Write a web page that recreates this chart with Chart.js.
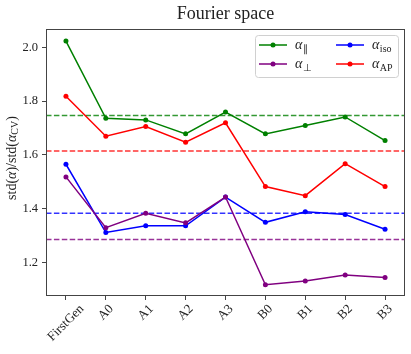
<!DOCTYPE html>
<html>
<head>
<meta charset="utf-8">
<script src="https://cdn.jsdelivr.net/npm/chart.js@4.4.1/dist/chart.umd.min.js"></script>
<style>
    html, body { margin: 0; padding: 0; background: #fff; }
    #wrap { width: 411px; height: 354px; }
</style>
</head>
<body>
<div id="wrap"><canvas id="fourierChart" width="411" height="354"></canvas></div>
<script>
// Data
const categories = ['FirstGen', 'A0', 'A1', 'A2', 'A3', 'B0', 'B1', 'B2', 'B3'];
const alphaPar  = [2.023, 1.736, 1.730, 1.678, 1.759, 1.678, 1.709, 1.741, 1.653];
const alphaPerp = [1.518, 1.329, 1.383, 1.347, 1.443, 1.117, 1.131, 1.153, 1.144];
const alphaIso  = [1.565, 1.311, 1.336, 1.336, 1.443, 1.349, 1.388, 1.378, 1.323];
const alphaAP   = [1.818, 1.669, 1.705, 1.647, 1.719, 1.482, 1.448, 1.567, 1.482];
// dashed reference levels: par, perp, iso, AP
const refLevels = [1.746, 1.285, 1.383, 1.614];
const yTicks = [1.2, 1.4, 1.6, 1.8, 2.0];
const seriesSubs = ['\u2225', '\u22A5', 'iso', 'AP'];
const seriesColors = ['#008000', '#800080', '#0000ff', '#ff0000'];
const dashColors = ['rgba(0,128,0,0.8)', 'rgba(128,0,128,0.8)', 'rgba(0,0,255,0.8)', 'rgba(255,0,0,0.8)'];

const serif = "'Liberation Serif', 'Times New Roman', serif";
const frameColor = '#444';
const textColor = '#222';

// draws alpha with a subscript, returns width
function drawAlpha(ctx, x, y, sub, size) {
    ctx.font = 'italic ' + size + 'px ' + serif;
    ctx.fillText('\u03B1', x, y);
    const w = ctx.measureText('\u03B1').width;
    const subSize = Math.round(size * 0.72);
    ctx.font = subSize + 'px ' + serif;
    ctx.fillText(sub, x + w + 0.5, y + size * 0.3);
    return w + 0.5 + ctx.measureText(sub).width;
}

const fourierPlugin = {
    id: 'fourierExtras',
    beforeDatasetsDraw(chart) {
        const ctx = chart.ctx;
        const area = chart.chartArea;
        const yScale = chart.scales.y;
        ctx.save();
        ctx.lineWidth = 1.5;
        ctx.setLineDash([5.5, 2.4]);
        refLevels.forEach(function(level, i) {
            const y = yScale.getPixelForValue(level);
            ctx.strokeStyle = dashColors[i];
            ctx.beginPath();
            ctx.moveTo(area.left, y);
            ctx.lineTo(area.right, y);
            ctx.stroke();
        });
        ctx.restore();
    },
    afterDraw(chart) {
        const ctx = chart.ctx;
        const area = chart.chartArea;
        const xScale = chart.scales.x;
        ctx.save();

        // frame
        ctx.strokeStyle = frameColor;
        ctx.lineWidth = 1;
        ctx.strokeRect(area.left + 0.5, area.top + 0.5, area.right - area.left - 1, area.bottom - area.top - 1);

        // title
        ctx.fillStyle = textColor;
        ctx.font = '18px ' + serif;
        ctx.textAlign = 'center';
        ctx.textBaseline = 'alphabetic';
        ctx.fillText('Fourier space', (area.left + area.right) / 2, 19);

        // x tick labels, rotated 45 deg, centred on tick
        ctx.font = '13px ' + serif;
        ctx.textBaseline = 'middle';
        categories.forEach(function(label, i) {
            const x = xScale.getPixelForTick(i);
            const w = ctx.measureText(label).width;
            const h = 11;
            const cy = area.bottom + 7 + (w + h) * Math.SQRT1_2 / 2;
            ctx.save();
            ctx.translate(x, cy);
            ctx.rotate(-Math.PI / 4);
            ctx.fillText(label, 0, 0);
            ctx.restore();
        });

        // y axis title: std(α)/std(α_CV)
        ctx.save();
        ctx.translate(12, 158);
        ctx.rotate(-Math.PI / 2);
        ctx.textAlign = 'left';
        ctx.textBaseline = 'middle';
        const size = 14;
        const parts = [
            ['std(', size + 'px ' + serif, 0],
            ['\u03B1', 'italic ' + size + 'px ' + serif, 0],
            [')/std(', size + 'px ' + serif, 0],
            ['\u03B1', 'italic ' + size + 'px ' + serif, 0],
            ['CV', '10px ' + serif, 3.5],
            [')', size + 'px ' + serif, 0]
        ];
        let total = 0;
        parts.forEach(function(p) { ctx.font = p[1]; total += ctx.measureText(p[0]).width; });
        let px = -total / 2;
        parts.forEach(function(p) {
            ctx.font = p[1];
            ctx.fillText(p[0], px, p[2]);
            px += ctx.measureText(p[0]).width;
        });
        ctx.restore();

        // legend box, two columns
        const box = { x: 255, y: 35, w: 143, h: 42 };
        ctx.fillStyle = 'rgba(255,255,255,0.85)';
        ctx.strokeStyle = '#d0d0d0';
        ctx.lineWidth = 1;
        ctx.beginPath();
        ctx.roundRect(box.x + 0.5, box.y + 0.5, box.w, box.h, 3);
        ctx.fill();
        ctx.stroke();

        const cols = [259, 336];
        const rows = [45, 64];
        ctx.textAlign = 'left';
        ctx.textBaseline = 'middle';
        chart.data.datasets.forEach(function(ds, i) {
            const cx = cols[Math.floor(i / 2)];
            const ry = rows[i % 2];
            ctx.strokeStyle = ds.borderColor;
            ctx.lineWidth = 1.5;
            ctx.beginPath();
            ctx.moveTo(cx, ry);
            ctx.lineTo(cx + 28, ry);
            ctx.stroke();
            ctx.fillStyle = ds.borderColor;
            ctx.beginPath();
            ctx.arc(cx + 14, ry, 2.5, 0, Math.PI * 2);
            ctx.fill();
            ctx.fillStyle = textColor;
            drawAlpha(ctx, cx + 36, ry, seriesSubs[i], 14);
        });

        ctx.restore();
    }
};

function makeDataset(label, values, color) {
    return {
        label: label,
        data: values,
        borderColor: color,
        backgroundColor: color,
        borderWidth: 1.5,
        pointRadius: 2.5,
        pointBorderWidth: 0,
        pointHoverRadius: 2.5,
        tension: 0
    };
}

const ctx = document.getElementById('fourierChart').getContext('2d');
const fourierChart = new Chart(ctx, {
    type: 'line',
    data: {
        labels: categories,
        datasets: [
            makeDataset('alpha_par', alphaPar, seriesColors[0]),
            makeDataset('alpha_perp', alphaPerp, seriesColors[1]),
            makeDataset('alpha_iso', alphaIso, seriesColors[2]),
            makeDataset('alpha_AP', alphaAP, seriesColors[3])
        ]
    },
    options: {
        responsive: false,
        animation: false,
        layout: { padding: { top: 29, right: 6, left: 0, bottom: 0 } },
        plugins: {
            legend: { display: false },
            title: { display: false },
            tooltip: { enabled: false }
        },
        scales: {
            x: {
                offset: true,
                grid: { drawOnChartArea: false, drawTicks: true, tickLength: 4, color: frameColor },
                border: { display: false },
                ticks: { display: false },
                afterFit: function(scale) { scale.height = 58; }
            },
            y: {
                min: 1.075,
                max: 2.068,
                grid: { drawOnChartArea: false, drawTicks: true, tickLength: 4, color: frameColor },
                border: { display: false },
                afterBuildTicks: function(scale) {
                    scale.ticks = yTicks.map(function(v) { return { value: v }; });
                },
                ticks: {
                    color: textColor,
                    padding: 4,
                    font: { family: serif, size: 12.5 },
                    callback: function(v) { return Number(v).toFixed(1); }
                },
                afterFit: function(scale) { scale.width = 46; }
            }
        }
    },
    plugins: [fourierPlugin]
});
</script>
</body>
</html>
